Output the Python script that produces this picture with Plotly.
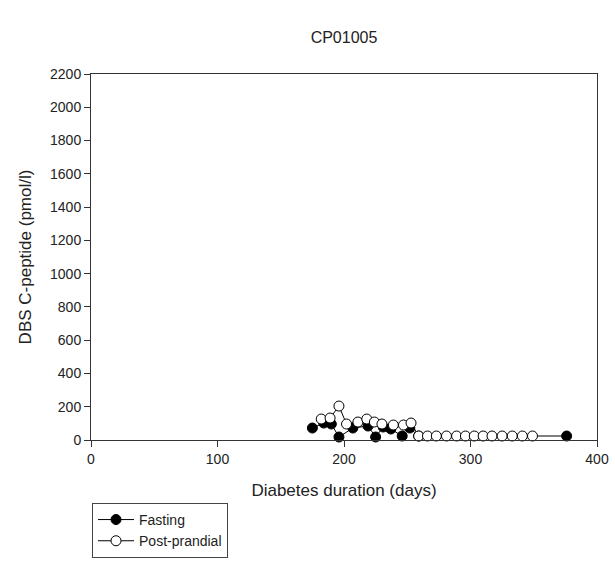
import plotly.graph_objects as go

# Fasting DBS C-peptide samples
fasting_days = [175, 184, 190, 196, 207, 219, 225, 231, 237, 246, 252, 259, 376]
fasting_cpep = [72, 102, 96, 18, 72, 84, 18, 78, 66, 24, 72, 24, 24]

# Post-prandial DBS C-peptide samples
post_days = [182, 189, 196, 202, 211, 218, 224, 230, 239, 247, 253,
             259, 266, 273, 281, 289, 296, 303, 310, 317, 325, 333, 341, 349]
post_cpep = [126, 132, 204, 96, 108, 126, 108, 96, 90, 90, 102,
             24, 24, 24, 24, 24, 24, 24, 24, 24, 24, 24, 24, 24]

x_ticks = [0, 100, 200, 300, 400]
y_ticks = list(range(0, 2201, 200))

FONT = "Liberation Sans, Arial, sans-serif"

fig = go.Figure()
fig.add_trace(go.Scatter(
    x=fasting_days, y=fasting_cpep, mode="lines+markers", name="Fasting",
    line=dict(color="black", width=1),
    marker=dict(symbol="circle", size=10, color="black",
                line=dict(color="black", width=1)),
    cliponaxis=False,
))
fig.add_trace(go.Scatter(
    x=post_days, y=post_cpep, mode="lines+markers", name="Post-prandial",
    line=dict(color="black", width=1),
    marker=dict(symbol="circle", size=10, color="white",
                line=dict(color="black", width=1)),
    cliponaxis=False,
))

axis_common = dict(
    showgrid=False, zeroline=False, showline=True, linecolor="#333",
    linewidth=1, mirror=True, ticks="outside", ticklen=6, tickcolor="#333",
    tickfont=dict(family=FONT, size=14, color="#222"), automargin=False,
)

fig.update_layout(
    width=615, height=562,
    margin=dict(l=91, r=18, t=74, b=122, autoexpand=False),
    paper_bgcolor="white", plot_bgcolor="white",
    title=dict(text="CP01005", x=0.5, xref="paper", xanchor="center",
               y=0.933, yanchor="middle",
               font=dict(family=FONT, size=16, color="#222")),
    xaxis=dict(range=[0, 400], tickvals=x_ticks, **axis_common,
               title=dict(text="Diabetes duration (days)",
                          font=dict(family=FONT, size=17, color="#222"),
                          standoff=18)),
    yaxis=dict(range=[0, 2200], tickvals=y_ticks, **axis_common,
               title=dict(text="DBS C-peptide (pmol/l)",
                          font=dict(family=FONT, size=17, color="#222"),
                          standoff=14)),
    showlegend=True,
    legend=dict(x=0.002, y=-0.172, xanchor="left", yanchor="top",
                bordercolor="#444", borderwidth=1, bgcolor="white",
                font=dict(family=FONT, size=14, color="#222"),
                tracegroupgap=0, itemwidth=36),
)

fig.write_html("out.html")
